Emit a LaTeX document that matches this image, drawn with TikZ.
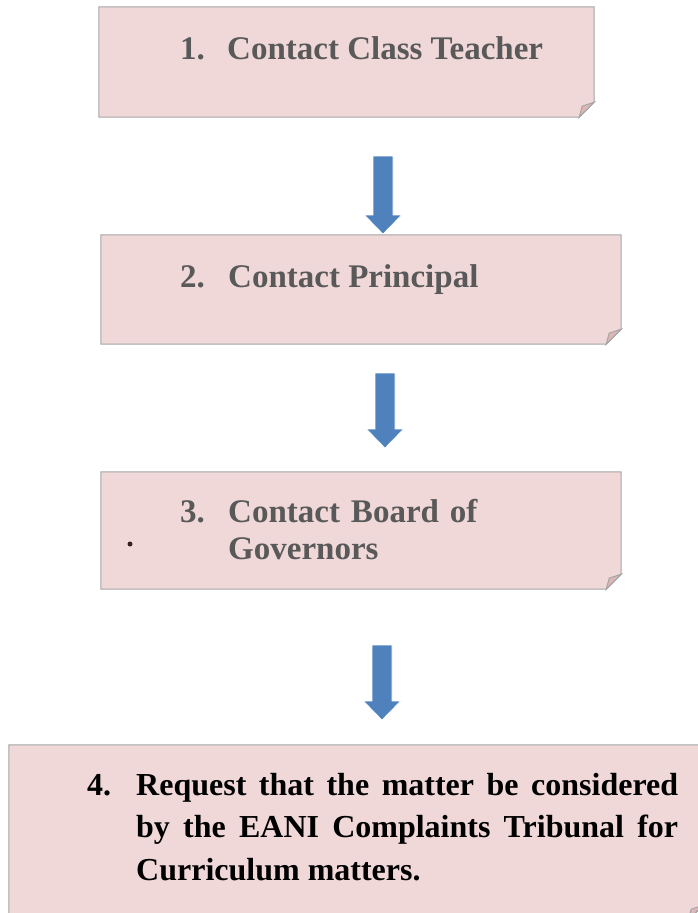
\documentclass[tikz,border=0pt]{standalone}
\usepackage{fontspec}
\setmainfont{Liberation Serif}
\usetikzlibrary{calc,positioning}

\begin{document}
\begin{tikzpicture}[x=1pt,y=-1pt]
  % Local definitions
  \def\fold{15}
  \def\foldedbox#1{%
    \draw[box line,fill=boxfill] (#1.north west) -- (#1.north east)
      -- ($(#1.south east)+(0,-\fold)$) -- ($(#1.south east)+(-\fold,0)$)
      -- (#1.south west) -- cycle;
    \draw[box line,fill=flapfill] ($(#1.south east)+(0,-\fold)$)
      -- ($(#1.south east)+(-12,-11)$) -- ($(#1.south east)+(-\fold,0)$) -- cycle;}
  \def\blockarrow#1#2{%
    \draw[block arrow] ($(#1)+(-10,0)$) -- ($(#1)+(10,0)$) -- ($(#2)+(10,-19)$)
      -- ($(#2)+(18.5,-19)$) -- (#2) -- ($(#2)+(-18.5,-19)$)
      -- ($(#2)+(-10,-19)$) -- cycle;}

  % Colors
  \definecolor{boxfill}{RGB}{240,216,216}
  \definecolor{boxline}{RGB}{166,166,166}
  \definecolor{flapfill}{RGB}{222,182,182}
  \definecolor{arrowblue}{RGB}{79,129,189}
  \definecolor{graytext}{RGB}{89,89,89}
  \definecolor{dotcolor}{RGB}{60,30,30}

  % Styles
  \tikzstyle{flow box}=[rectangle,inner sep=0pt]
  \tikzstyle{box line}=[draw=boxline,line width=1pt,line join=miter]
  \tikzstyle{step text}=[inner sep=0pt,anchor=base west,text=graytext,font=\fontsize{33}{37}\selectfont\bfseries]
  \tikzstyle{final text}=[inner sep=0pt,anchor=base west,text=black,font=\fontsize{32}{42.5}\selectfont\bfseries]
  \tikzstyle{block arrow}=[fill=arrowblue,draw=white,line width=0.6pt]

  % The graphic
  \useasboundingbox (0,0) rectangle (698,913);
  \fill[white] (0,0) rectangle (698,913);

  \node[flow box,minimum width=495pt,minimum height=110pt] (b1) at (346.5,62) {};
  \node[flow box,minimum width=520pt,minimum height=109pt] (b2) at (361,289.5) {};
  \node[flow box,minimum width=520pt,minimum height=117pt] (b3) at (361,530.5) {};
  \node[flow box,minimum width=694pt,minimum height=175pt] (b4) at (356,832.5) {};
  \foreach \b in {b1,b2,b3,b4}
    \foldedbox{\b};

  \coordinate (a1top) at (383,156);
  \coordinate (a1tip) at (383,234);
  \coordinate (a2top) at (385,373);
  \coordinate (a2tip) at (385,448);
  \coordinate (a3top) at (382,645);
  \coordinate (a3tip) at (382,720);
  \blockarrow{a1top}{a1tip}
  \blockarrow{a2top}{a2tip}
  \blockarrow{a3top}{a3tip}

  \node[step text] (n1) at (180,59) {1.};
  \node[step text] (t1) at (227,59) {Contact Class Teacher};
  \node[step text] (n2) at (180,287) {2.};
  \node[step text] (t2) at (228,287) {Contact Principal};
  \node[step text] (n3) at (180,522) {3.};
  \node[step text,text width=300pt,align=left] (t3) at (228,522) {Contact Board of\\Governors};
  \node[circle,fill=dotcolor,inner sep=0pt,minimum size=5pt] (dot) at (130,544) {};

  \node[final text] (n4) at (87,795) {4.};
  \node[final text,text width=542pt,align=justify] (t4) at (136,795)
    {Request that the matter be considered\linebreak by the EANI Complaints Tribunal for\linebreak Curriculum matters.};
\end{tikzpicture}
\end{document}
